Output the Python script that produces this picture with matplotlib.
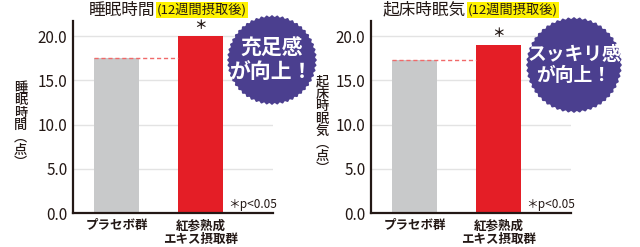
import numpy as np
import matplotlib
matplotlib.use("Agg")
import matplotlib.pyplot as plt
from matplotlib.patches import Polygon

plt.rcParams['font.family'] = ['Noto Sans CJK JP', 'DejaVu Sans']

# data
groups = ['プラセボ群', '紅参熟成\nエキス摂取群']
sleep_time = [17.5, 20.0]
wake_sleepiness = [17.25, 19.0]
yticks = [0.0, 5.0, 10.0, 15.0, 20.0]

titles = ['睡眠時間', '起床時眠気']
subtitle = '(12週間摂取後)'
ylabels = ['睡眠時間', '起床時眠気']
badges = ['充足感\nが向上！', 'スッキリ感\nが向上！']

GRAY = '#c8c9ca'
RED = '#e41e26'
PURPLE = '#4b3f8f'
TXT = '#231815'

fig = plt.figure(figsize=(6.4, 2.47), dpi=100)


def px(x, y):
    # pixel position -> figure fraction
    return x / 640, 1 - y / 247


def draw_panel(left_px, values, title, title_end, ylab, ylab_x, badge, badge_c, badge_r, badge_fs):
    x0, y0 = px(left_px, 213)
    ax = fig.add_axes([x0, y0, 200 / 640, 192 / 247])
    xs = np.arange(len(values))
    ax.bar(xs, values, width=0.536, color=[GRAY, RED], zorder=2)
    ax.set_xlim(-0.518, 1.863)
    ax.set_ylim(0, 21.7)
    ax.set_yticks(yticks)
    ax.set_yticklabels([f'{v:.1f}' for v in yticks], fontsize=11, color=TXT)
    ax.set_xticks([])
    ax.tick_params(axis='y', length=0, pad=4)
    for v in yticks[1:]:
        ax.axhline(v, color='#e3e3e3', lw=1, zorder=1)
    for s in ['top', 'right']:
        ax.spines[s].set_visible(False)
    for s in ['left', 'bottom']:
        ax.spines[s].set_linewidth(1.6)
        ax.spines[s].set_color(TXT)
    # dashed reference line from placebo level
    ax.plot([xs[0] - 0.268, xs[1] - 0.268], [values[0], values[0]],
            ls=(0, (3, 2)), color='#f06a6a', lw=1, zorder=3)
    ax.text(xs[1], values[1] + 0.5, '＊', ha='center', va='bottom', fontsize=9,
            color=TXT, fontweight='bold')
    # category labels
    for i, g in enumerate(groups):
        ax.text(xs[i], -0.7, g, ha='center', va='top', fontsize=9, color=TXT,
                fontweight='bold', linespacing=1.05)
    ax.text(1.33, 1.0, '＊p<0.05', ha='left', va='center', fontsize=8.5, color=TXT)

    # title
    tx, ty = px(title_end, 10)
    fig.text(tx, ty, title, ha='right', va='center', fontsize=12, color=TXT)
    fig.text(tx + 0.003, ty, subtitle, ha='left', va='center', fontsize=9.5, color=TXT,
             bbox=dict(boxstyle='square,pad=0.1', fc='#fff200', ec='none'))

    # vertical y label
    lx, ly = px(ylab_x, 125)
    fig.text(lx, ly, '\n'.join(list(ylab) + ['︵', '点', '︶']), ha='center', va='center',
             fontsize=9.5, color=TXT, linespacing=0.85, fontweight='medium')

    # scalloped badge
    cx, cy = badge_c[0] / 100, (247 - badge_c[1]) / 100
    th = np.linspace(0, 2 * np.pi, 1201)
    r = badge_r / 100 + 0.008 * np.cos(52 * th)
    poly = Polygon(np.column_stack([cx + r * np.cos(th), cy + r * np.sin(th)]),
                   closed=True, fc=PURPLE, ec='none', transform=fig.dpi_scale_trans, zorder=5)
    fig.add_artist(poly)
    fig.text(cx / 6.4, cy / 2.47, badge, ha='center', va='center', fontsize=badge_fs,
             color='white', fontweight='bold', linespacing=1.1, zorder=6)


draw_panel(73, sleep_time, titles[0], 155, ylabels[0], 20.5, badges[0], (272, 60), 44, 15)
draw_panel(371, wake_sleepiness, titles[1], 466, ylabels[1], 322, badges[1], (574, 65), 47, 13.5)

fig.savefig('out.png', dpi=100)
